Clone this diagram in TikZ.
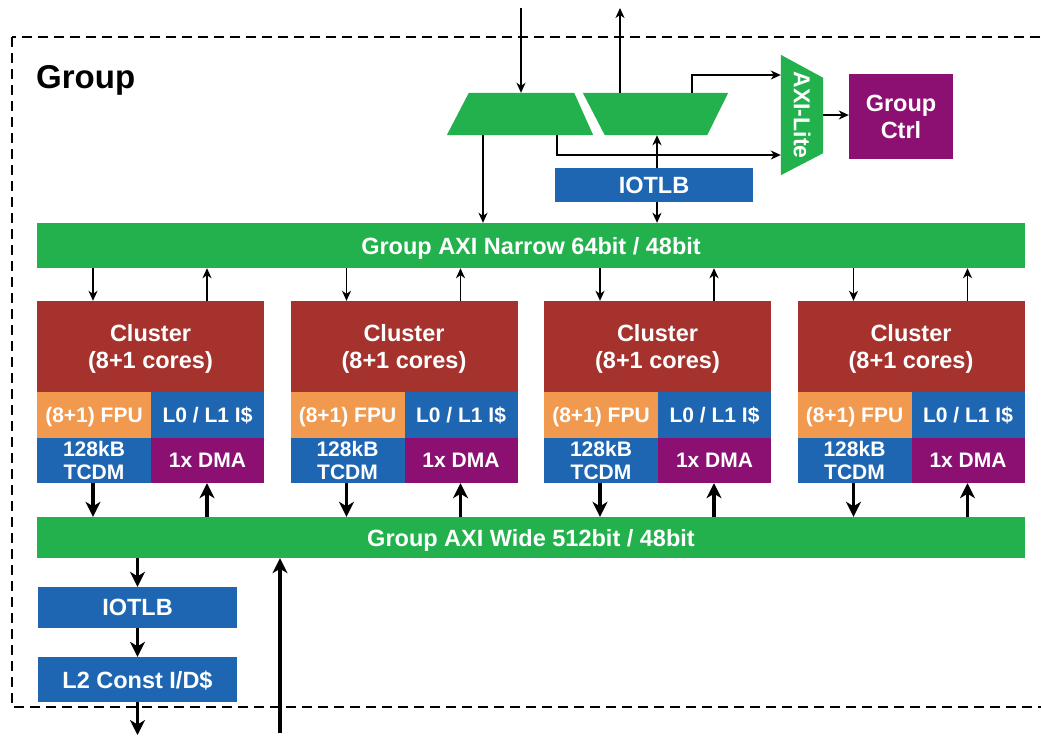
\documentclass[tikz,border=0pt]{standalone}
\usepackage{fontspec}
\setmainfont{Liberation Sans}
\usetikzlibrary{arrows.meta,calc}
\definecolor{axigreen}{HTML}{22B14C}
\definecolor{clred}{HTML}{A5322D}
\definecolor{fpuorange}{HTML}{F0994F}
\definecolor{memblue}{HTML}{1F66B2}
\definecolor{ctrlpurple}{HTML}{8C0F72}
\begin{document}
\begin{tikzpicture}[x=1pt,y=-1pt,
  blk/.style={rectangle, inner sep=0pt, text=white, text depth=0pt,
    font=\bfseries\fontsize{23.5}{27}\selectfont, align=center},
  sub/.style={blk, font=\bfseries\fontsize{21}{23.5}\selectfont},
  shapebox/.style={rectangle, inner sep=0pt},
  thinarr/.style={line width=1.5pt, -{Stealth[length=10pt,width=9pt,inset=3pt]}},
  thickarr/.style={line width=3.2pt, -{Stealth[length=15pt,width=15pt,inset=4.5pt]}},
]
\useasboundingbox (0,0) rectangle (1041,737);
\fill[white] (0,0) rectangle (1041,737);

% group boundary
\draw[line width=2.3pt, dash pattern=on 10pt off 6pt] (12,37) rectangle (1080,707);
\node[font=\bfseries\fontsize{33}{36}\selectfont, anchor=base west, inner sep=0pt]
  (grouplabel) at (36,88) {Group};

% buses
\node[blk, fill=axigreen, minimum width=988, minimum height=45] (narrow) at (531,245.5)
  {Group AXI Narrow 64bit / 48bit};
\node[blk, fill=axigreen, minimum width=988, minimum height=41] (wide) at (531,537.5)
  {Group AXI Wide 512bit / 48bit};

% clusters
\foreach \i in {0,...,3} {
  \pgfmathsetmacro\x{37+253.5*\i}
  \node[blk, fill=clred, minimum width=227, minimum height=91] (cl\i) at (\x+113.5,346.5)
    {Cluster\\(8+1 cores)};
  \node[sub, fill=fpuorange, minimum width=114, minimum height=46] (fpu\i) at (\x+57,415) {(8+1) FPU};
  \node[sub, fill=memblue, minimum width=113, minimum height=46] (lz\i) at (\x+170.5,415) {L0 / L1 I\$};
  \node[sub, fill=memblue, minimum width=114, minimum height=45] (tcdm\i) at (\x+57,460.5) {128kB\\TCDM};
  \node[sub, fill=ctrlpurple, minimum width=113, minimum height=45] (dma\i) at (\x+170.5,460.5) {1x DMA};
  \coordinate (dn\i) at (\x+56,0);
  \coordinate (up\i) at (\x+170,0);
  \draw[thinarr] (narrow.south -| dn\i) -- (cl\i.north -| dn\i);
  \draw[thinarr] (cl\i.north -| up\i) -- (narrow.south -| up\i);
  \draw[thickarr] (tcdm\i.south -| dn\i) -- (wide.north -| dn\i);
  \draw[thickarr] (wide.north -| up\i) -- (dma\i.south -| up\i);
}

% demux / mux
\node[shapebox, minimum width=146, minimum height=42] (demux) at (520,114) {};
\fill[axigreen] ($(demux.north west)+(22,0)$) -- ($(demux.north east)+(-19,0)$)
  -- (demux.south east) -- (demux.south west) -- cycle;
\node[shapebox, minimum width=145, minimum height=42] (mux) at (655.5,114) {};
\fill[axigreen] (mux.north west) -- (mux.north east)
  -- ($(mux.south east)+(-21,0)$) -- ($(mux.south west)+(22,0)$) -- cycle;

% AXI-Lite crossbar and group control
\node[shapebox, minimum width=42, minimum height=120] (axil) at (802,115) {};
\fill[axigreen] (axil.north west) -- ($(axil.north east)+(0,23)$)
  -- ($(axil.south east)+(0,-22)$) -- (axil.south west) -- cycle;
\node[text=white, font=\bfseries\fontsize{23}{26}\selectfont, rotate=-90, inner sep=0pt]
  (axiltext) at (axil.center) {AXI-Lite};
\node[blk, fill=ctrlpurple, minimum width=104, minimum height=85] (gctrl) at (901,116.5) {Group\\Ctrl};

\node[blk, fill=memblue, minimum width=198, minimum height=34] (iotlbA) at (654,185) {IOTLB};

% narrow-side connections
\coordinate (in) at (521,8);
\draw[thinarr] (in) -- (in |- demux.north);
\coordinate (out) at (620,8);
\draw[thinarr] (out |- mux.north) -- (out);
\coordinate (m1) at (692,75);
\draw[thinarr] (mux.north -| m1) |- (axil.west |- m1);
\coordinate (d1) at (557,155);
\draw[thinarr] (demux.south -| d1) |- (axil.west |- d1);
\draw[thinarr] (axil.east) -- (axil.east -| gctrl.west);
\coordinate (io) at (657,0);
\draw[thinarr] (iotlbA.north -| io) -- (mux.south -| io);
\draw[thinarr] (iotlbA.south -| io) -- (narrow.north -| io);
\coordinate (d2) at (483,0);
\draw[thinarr] (demux.south -| d2) -- (narrow.north -| d2);

% wide-side path to L2
\node[blk, fill=memblue, minimum width=199, minimum height=41] (iotlbB) at (137.5,607.5) {IOTLB};
\node[blk, fill=memblue, minimum width=199, minimum height=45] (ltwo) at (137.5,679.5) {L2 Const I/D\$};
\draw[thickarr] (wide.south -| iotlbB) -- (iotlbB.north);
\draw[thickarr] (iotlbB.south) -- (ltwo.north);
\coordinate (l2out) at (137.5,735);
\draw[thickarr] (ltwo.south) -- (l2out);
\coordinate (wdin) at (280,733);
\draw[thickarr] (wdin) -- (wdin |- wide.south);
\end{tikzpicture}
\end{document}
